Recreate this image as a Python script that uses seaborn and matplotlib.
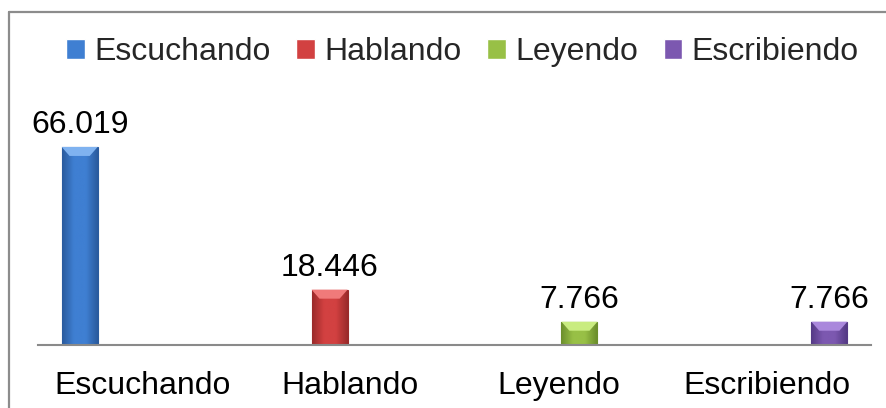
import matplotlib
matplotlib.use("Agg")
import matplotlib.pyplot as plt
from matplotlib.lines import Line2D
from matplotlib.patches import Polygon
import matplotlib.colors as mcolors
import seaborn as sns
import pandas as pd
import numpy as np

categories = ["Escuchando", "Hablando", "Leyendo", "Escribiendo"]
series = ["Escuchando", "Hablando", "Leyendo", "Escribiendo"]
values = [66.019, 18.446, 7.766, 7.766]
colors = ["#3f7fd2", "#d24141", "#98c046", "#7c58b0"]
edge_colors = ["#2a5b9e", "#9a2a2a", "#6c8f2c", "#553a86"]
top_colors = ["#7fb2f0", "#f07a7a", "#c9ec80", "#aa88dc"]

df = pd.DataFrame({"categoria": categories, "serie": series, "valor": values})

sns.set_theme(style="white")
plt.rcParams["font.family"] = ["Liberation Sans", "DejaVu Sans"]

fig = plt.figure(figsize=(8.86, 4.08), dpi=100)
ax = fig.add_axes([38 / 886, (408 - 345) / 408, 833 / 886, 210 / 408])

sns.barplot(data=df, x="categoria", y="valor", hue="serie", order=categories,
            hue_order=series, palette=colors, width=0.8, gap=0.136, dodge=True,
            ax=ax, legend=True, saturation=1)

ax.set_xlim(-0.5, 3.5)
ax.set_ylim(0, 70)

# pixel -> data conversion for bevel depth
px_per_y = ax.get_window_extent().height / 70.0

for cont, base, ec, tc in zip(ax.containers, colors, edge_colors, top_colors):
    for b in cont:
        if not np.isfinite(b.get_height()) or b.get_height() <= 0:
            continue
        x0, y0, w, h = b.get_x(), b.get_y(), b.get_width(), b.get_height()
        b.set_edgecolor(ec)
        b.set_linewidth(0.8)
        # horizontal shading gradient clipped to the bar
        cmap = mcolors.LinearSegmentedColormap.from_list("g", [ec, base, base, ec])
        grad = np.linspace(0, 1, 64).reshape(1, -1)
        im = ax.imshow(grad, cmap=cmap, extent=[x0, x0 + w, y0, y0 + h],
                       aspect="auto", zorder=b.get_zorder() + 0.1, origin="lower")
        im.set_clip_path(b)
        # lighter bevel on the top face
        dy = 9 / px_per_y
        dx = w * 0.22
        top = y0 + h
        poly = Polygon([[x0, top], [x0 + w, top], [x0 + w - dx, top - dy],
                        [x0 + dx, top - dy]], closed=True, facecolor=tc,
                       edgecolor="none", zorder=b.get_zorder() + 0.2)
        ax.add_patch(poly)
    ax.bar_label(cont, fmt="%.3f", padding=5, fontsize=23, color="black")

ax.set_xlim(-0.5, 3.5)
ax.set_ylim(0, 70)
ax.set_xlabel("")
ax.set_ylabel("")
ax.set_yticks([])
for s in ["top", "left", "right"]:
    ax.spines[s].set_visible(False)
ax.spines["bottom"].set_color("#8a8a8a")
ax.spines["bottom"].set_linewidth(1.5)
ax.spines["bottom"].set_zorder(5)
ax.tick_params(axis="x", length=0, pad=19, labelsize=23, colors="black")
ax.patch.set_alpha(0)

sns.move_legend(ax, "center", bbox_to_anchor=(0.522, 1 - 52 / 408),
                bbox_transform=fig.transFigure, ncol=4, frameon=False, title=None,
                fontsize=23, handlelength=0.58, handleheight=0.58,
                handletextpad=0.3, columnspacing=0.8, borderpad=0, borderaxespad=0)

# outer chart frame (gray), visible on top and left
fig.add_artist(Line2D([9 / 886, 1.0], [1 - 12 / 408, 1 - 12 / 408],
                      transform=fig.transFigure, color="#8c8c8c", lw=1.6))
fig.add_artist(Line2D([9 / 886, 9 / 886], [0, 1 - 12 / 408],
                      transform=fig.transFigure, color="#8c8c8c", lw=1.6))

fig.savefig("out.png", dpi=100)
